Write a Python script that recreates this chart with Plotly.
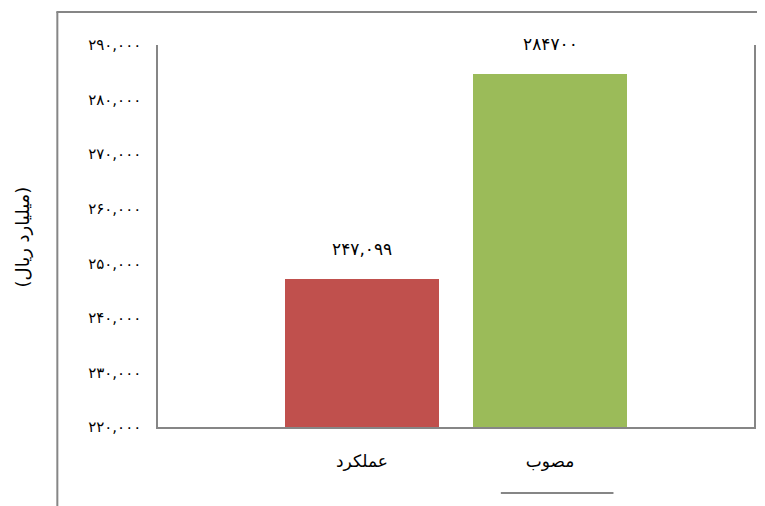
import plotly.graph_objects as go

categories = ["عملکرد", "مصوب"]
values = [247099, 284700]
value_labels = ["۲۴۷,۰۹۹", "۲۸۴۷۰۰"]
bar_colors = ["#C0504D", "#9BBB59"]
y_tickvals = [220000, 230000, 240000, 250000, 260000, 270000, 280000, 290000]
y_ticktext = ["۲۲۰,۰۰۰", "۲۳۰,۰۰۰", "۲۴۰,۰۰۰", "۲۵۰,۰۰۰",
              "۲۶۰,۰۰۰", "۲۷۰,۰۰۰", "۲۸۰,۰۰۰", "۲۹۰,۰۰۰"]
y_title = "(میلیارد ریال)"

OFF = 8  # page body margin
W, H = 765 - OFF, 506 - OFF
L, R, T, B = 158 - OFF, 9, 45 - OFF, 79
pw, ph = W - L - R, H - T - B

def px(x):
    return (x - OFF - L) / pw

def py(y):
    return (H - B - (y - OFF)) / ph

FONT = "DejaVu Sans"
GRAY = "#868686"

fig = go.Figure()
fig.add_trace(go.Bar(
    x=categories, y=values, marker_color=bar_colors, width=0.824,
    marker_line_width=0, showlegend=False, hoverinfo="skip",
))

for c, v, t in zip(categories, values, value_labels):
    fig.add_annotation(x=c, y=v, text=t, showarrow=False, yshift=30,
                       font=dict(family=FONT, size=17, color="#000000"))

fig.add_annotation(xref="paper", yref="paper", x=px(22), y=py(237),
                   xanchor="center", yanchor="middle",
                   text=y_title, textangle=-90, showarrow=False,
                   font=dict(family=FONT, size=18, color="#000000"))

# outer frame (left and top)
fig.add_shape(type="line", xref="paper", yref="paper",
              x0=px(57), x1=px(57), y0=py(12), y1=py(515),
              line=dict(color=GRAY, width=2))
fig.add_shape(type="line", xref="paper", yref="paper",
              x0=px(56), x1=px(775), y0=py(12), y1=py(12),
              line=dict(color=GRAY, width=2))
# underline under the category area
fig.add_shape(type="line", xref="paper", yref="paper",
              x0=px(502), x1=px(615), y0=py(493), y1=py(493),
              line=dict(color=GRAY, width=2))

fig.update_layout(
    width=W, height=H,
    margin=dict(l=L, r=R, t=T, b=B, pad=0),
    paper_bgcolor="white", plot_bgcolor="white",
    bargap=0,
    xaxis=dict(
        type="category", range=[-1.085, 2.085],
        showline=True, linecolor=GRAY, linewidth=1.5, mirror=False,
        showgrid=False, zeroline=False,
        ticks="outside", ticklen=18, tickcolor="rgba(0,0,0,0)",
        tickfont=dict(family=FONT, size=17, color="#000000"),
    ),
    yaxis=dict(
        range=[220000, 290000],
        tickvals=y_tickvals, ticktext=y_ticktext,
        showline=True, linecolor=GRAY, linewidth=1.5, mirror=True,
        showgrid=False, zeroline=False,
        ticks="outside", ticklen=12, tickcolor="rgba(0,0,0,0)",
        tickfont=dict(family=FONT, size=15, color="#000000"),
    ),
)

fig.write_html("out.html")
